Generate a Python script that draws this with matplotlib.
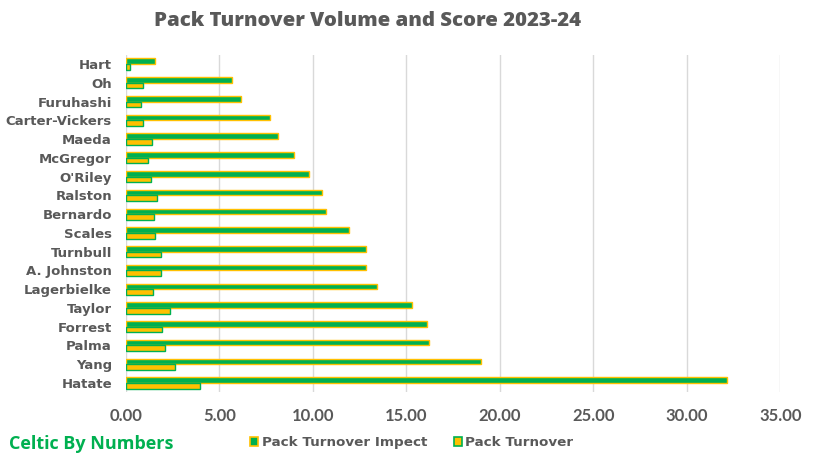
import matplotlib
matplotlib.use("Agg")
import matplotlib.pyplot as plt
from matplotlib.patches import Patch
import numpy as np

players = ["Hart", "Oh", "Furuhashi", "Carter-Vickers", "Maeda", "McGregor", "O'Riley",
           "Ralston", "Bernardo", "Scales", "Turnbull", "A. Johnston", "Lagerbielke",
           "Taylor", "Forrest", "Palma", "Yang", "Hatate"]
impect = [1.58, 5.67, 6.15, 7.70, 8.12, 8.98, 9.80, 10.47, 10.68, 11.91, 12.84, 12.84,
          13.42, 15.28, 16.09, 16.20, 18.98, 32.13]
turnover = [0.20, 0.93, 0.83, 0.93, 1.42, 1.18, 1.36, 1.68, 1.52, 1.57, 1.89, 1.89,
            1.47, 2.36, 1.95, 2.10, 2.63, 3.96]
xticks = [0, 5, 10, 15, 20, 25, 30, 35]

GREEN = "#00B050"
GOLD = "#FFC000"
GREY = "#595959"

fig = plt.figure(figsize=(8.15, 4.63), dpi=100)
ax = fig.add_axes([0.1544, 0.1525, 0.9574 - 0.1544, 0.882 - 0.1525])

y = np.arange(len(players))
h = 0.30
ax.barh(y - h / 2, impect, height=h, color=GREEN, edgecolor=GOLD, linewidth=1.0, zorder=3)
ax.barh(y + h / 2, turnover, height=h, color=GOLD, edgecolor=GREEN, linewidth=1.0, zorder=3)

ax.set_ylim(len(players) - 0.5, -0.5)
ax.set_xlim(0, 35)
ax.set_xticks(xticks)
ax.set_xticklabels([f"{v:.2f}" for v in xticks], fontfamily="Lato", fontweight="bold",
                   fontsize=12, color=GREY)
ax.set_yticks(y)
ax.set_yticklabels(players, fontfamily="DejaVu Sans", fontweight="bold", fontsize=9.5, color=GREY)
ax.tick_params(axis="both", length=0)
ax.tick_params(axis="x", pad=11)
ax.tick_params(axis="y", pad=10)
for s in ax.spines.values():
    s.set_visible(False)
ax.grid(axis="x", color="#D9D9D9", linewidth=1.0, zorder=0)
ax.set_axisbelow(True)

fig.text(0.4515, 0.955, "Pack Turnover Volume and Score 2023-24", ha="center", va="center",
         fontfamily="Open Sans", fontweight=800, fontsize=14.7, color=GREY)
fig.text(0.011, 0.041, "Celtic By Numbers", ha="left", va="center",
         fontfamily="Open Sans", fontweight="bold", fontsize=13, color=GREEN)

handles = [Patch(facecolor=GREEN, edgecolor=GOLD, linewidth=1.2, label="Pack Turnover Impect"),
           Patch(facecolor=GOLD, edgecolor=GREEN, linewidth=1.2, label="Pack Turnover")]
leg = fig.legend(handles=handles, loc="center left", bbox_to_anchor=(0.3067, 0.0432), ncol=2,
                 frameon=False, handlelength=0.58, handleheight=0.7, handletextpad=0.28,
                 columnspacing=2.0, borderpad=0, borderaxespad=0,
                 prop={"family": "DejaVu Sans", "weight": "bold", "size": 9.7})
for t in leg.get_texts():
    t.set_color(GREY)

fig.savefig("out.png", dpi=100, facecolor="white")
